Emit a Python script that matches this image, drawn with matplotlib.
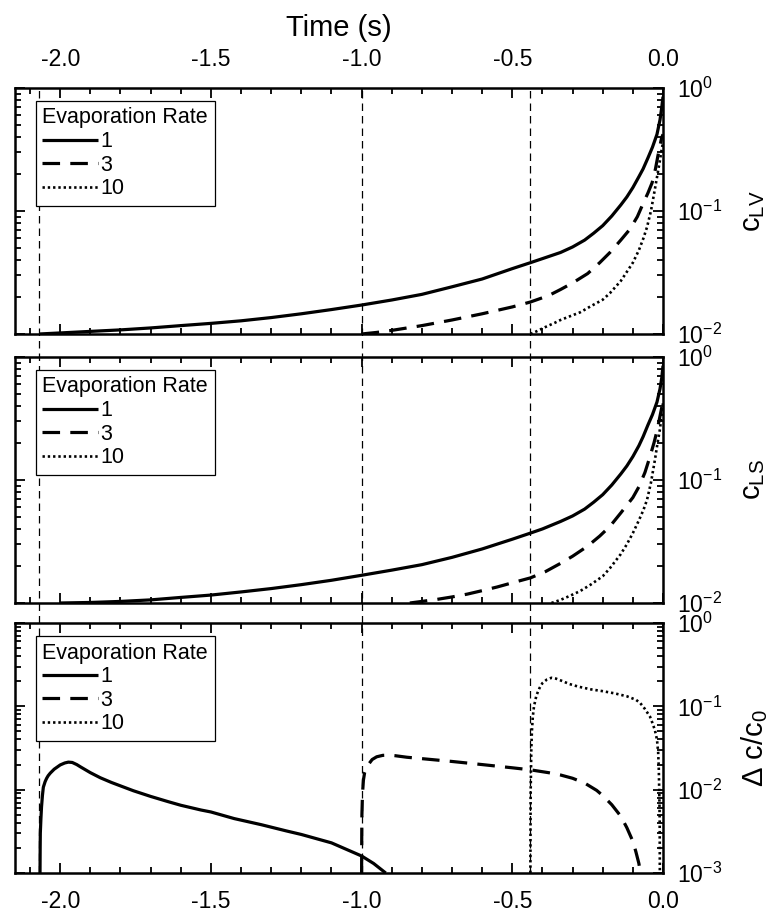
import numpy as np
import matplotlib
matplotlib.use("Agg")
import matplotlib.pyplot as plt
import matplotlib.transforms as mtransforms
from matplotlib.lines import Line2D
from matplotlib.ticker import MultipleLocator, LogLocator, LogFormatterMathtext, NullFormatter

plt.rcParams["font.family"] = ["Liberation Sans", "DejaVu Sans"]
plt.rcParams["mathtext.fontset"] = "custom"
plt.rcParams["mathtext.rm"] = "Liberation Sans"
plt.rcParams["mathtext.it"] = "Liberation Sans:italic"
plt.rcParams["mathtext.default"] = "regular"
plt.rcParams["axes.unicode_minus"] = False

# Evaporation rates shown in every panel
rates = ["1", "3", "10"]

# Times (s) where each rate starts (dashed guide lines)
guide_times = [-2.07, -1.0, -0.44]

# Panel 1: c_LV
t_lv_1 = [-2.07, -2.0, -1.9, -1.8, -1.7, -1.6, -1.5, -1.4, -1.3, -1.2, -1.1, -1.0, -0.9, -0.8,
          -0.7, -0.6, -0.5, -0.44, -0.4, -0.34, -0.3, -0.26, -0.23, -0.2, -0.17, -0.14, -0.12,
          -0.1, -0.08, -0.066, -0.05, -0.035, -0.02, -0.01, -0.004, 0.0]
c_lv_1 = [0.0100, 0.0102, 0.0105, 0.0108, 0.0112, 0.0117, 0.0122, 0.0128, 0.0136, 0.0146,
          0.0158, 0.0172, 0.0189, 0.021, 0.0242, 0.028, 0.034, 0.038, 0.041, 0.046, 0.051,
          0.058, 0.066, 0.076, 0.091, 0.112, 0.13, 0.155, 0.19, 0.22, 0.27, 0.33, 0.42, 0.55,
          0.70, 0.85]
t_lv_3 = [-1.0, -0.95, -0.9, -0.8, -0.7, -0.6, -0.5, -0.44, -0.38, -0.34, -0.3, -0.25, -0.21,
          -0.176, -0.14, -0.11, -0.085, -0.066, -0.05, -0.036, -0.025, -0.017, -0.01, -0.005, 0.0]
c_lv_3 = [0.0100, 0.0103, 0.0107, 0.0117, 0.0130, 0.0146, 0.0166, 0.0182, 0.0205, 0.023, 0.026,
          0.031, 0.038, 0.046, 0.058, 0.071, 0.09, 0.115, 0.14, 0.17, 0.22, 0.28, 0.34, 0.39, 0.42]
t_lv_10 = [-0.44, -0.42, -0.39, -0.36, -0.34, -0.31, -0.275, -0.24, -0.2, -0.176, -0.14, -0.12,
           -0.1, -0.08, -0.065, -0.053, -0.04, -0.027, -0.018, -0.01, -0.005, 0.0]
c_lv_10 = [0.0100, 0.0105, 0.0114, 0.0123, 0.0130, 0.0139, 0.0150, 0.0168, 0.019, 0.0215, 0.027,
           0.032, 0.038, 0.048, 0.060, 0.074, 0.10, 0.15, 0.20, 0.26, 0.31, 0.36]

# Panel 2: c_LS
t_ls_1 = [-2.0, -1.9, -1.8, -1.7, -1.6, -1.5, -1.4, -1.3, -1.2, -1.1, -1.0, -0.9, -0.8, -0.7,
          -0.6, -0.5, -0.44, -0.4, -0.34, -0.3, -0.26, -0.23, -0.2, -0.17, -0.14, -0.12, -0.1,
          -0.08, -0.066, -0.05, -0.035, -0.02, -0.01, -0.004, 0.0]
c_ls_1 = [0.0100, 0.0101, 0.0103, 0.0106, 0.0111, 0.0116, 0.0123, 0.0131, 0.0141, 0.0153,
          0.0168, 0.0185, 0.0205, 0.0235, 0.0275, 0.033, 0.037, 0.040, 0.046, 0.051, 0.058,
          0.066, 0.076, 0.091, 0.112, 0.13, 0.155, 0.19, 0.225, 0.28, 0.34, 0.43, 0.55, 0.68, 0.85]
t_ls_3 = [-0.84, -0.8, -0.75, -0.7, -0.65, -0.6, -0.55, -0.5, -0.44, -0.39, -0.34, -0.3, -0.25,
          -0.21, -0.176, -0.14, -0.1, -0.08, -0.06, -0.045, -0.03, -0.02, -0.01, -0.004, 0.0]
c_ls_3 = [0.0100, 0.0103, 0.0107, 0.0112, 0.0118, 0.0126, 0.0135, 0.0146, 0.0160, 0.0180, 0.021,
          0.024, 0.029, 0.035, 0.042, 0.054, 0.072, 0.088, 0.115, 0.15, 0.20, 0.25, 0.33, 0.39, 0.42]
t_ls_10 = [-0.37, -0.34, -0.31, -0.275, -0.24, -0.2, -0.176, -0.14, -0.12, -0.1, -0.08, -0.065,
           -0.053, -0.04, -0.027, -0.018, -0.01, -0.005, -0.002, 0.0]
c_ls_10 = [0.0100, 0.0106, 0.0114, 0.0125, 0.0141, 0.0165, 0.0192, 0.025, 0.030, 0.037, 0.047,
           0.057, 0.069, 0.095, 0.145, 0.20, 0.26, 0.33, 0.39, 0.42]

# Panel 3: delta c / c0
t_dc_1 = [-2.067, -2.0665, -2.066, -2.064, -2.062, -2.059, -2.056, -2.05, -2.045, -2.04, -2.033,
          -2.02, -2.0, -1.985, -1.973, -1.96, -1.945, -1.933, -1.9, -1.867, -1.83, -1.8, -1.757,
          -1.7, -1.643, -1.6, -1.533, -1.5, -1.423, -1.333, -1.25, -1.2, -1.1, -1.0, -0.96, -0.92]
c_dc_1 = [0.001, 0.002, 0.003, 0.0045, 0.0062, 0.0085, 0.0107, 0.0125, 0.0137, 0.0147, 0.0158,
          0.0176, 0.0198, 0.0209, 0.0214, 0.0212, 0.0200, 0.0188, 0.0160, 0.0139, 0.0122, 0.0111,
          0.0097, 0.0083, 0.0072, 0.0065, 0.0057, 0.0054, 0.0045, 0.0038, 0.0032, 0.0029,
          0.0023, 0.0016, 0.0013, 0.0010]
t_dc_3 = [-1.0, -0.9995, -0.999, -0.997, -0.994, -0.99, -0.98, -0.965, -0.95, -0.93, -0.91,
          -0.89, -0.85, -0.78, -0.7, -0.6, -0.5, -0.44, -0.38, -0.34, -0.3, -0.26, -0.22, -0.2,
          -0.17, -0.14, -0.12, -0.1, -0.09, -0.08, -0.075]
c_dc_3 = [0.001, 0.003, 0.005, 0.009, 0.013, 0.016, 0.0195, 0.023, 0.0248, 0.0258, 0.026, 0.0256,
          0.0245, 0.0232, 0.0218, 0.0200, 0.0183, 0.0173, 0.0160, 0.0150, 0.0137, 0.0120, 0.0098,
          0.0085, 0.0066, 0.0048, 0.0035, 0.0024, 0.0018, 0.0013, 0.001]
t_dc_10 = [-0.44, -0.4395, -0.439, -0.437, -0.435, -0.432, -0.428, -0.42, -0.41, -0.40, -0.385,
           -0.37, -0.355, -0.34, -0.31, -0.28, -0.24, -0.2, -0.16, -0.12, -0.09, -0.076, -0.06,
           -0.043, -0.035, -0.027, -0.02, -0.016, -0.014, -0.012, -0.011, -0.0105]
c_dc_10 = [0.001, 0.005, 0.01, 0.03, 0.05, 0.075, 0.10, 0.135, 0.165, 0.19, 0.21, 0.22, 0.215,
           0.205, 0.185, 0.172, 0.160, 0.152, 0.143, 0.132, 0.120, 0.110, 0.093, 0.075, 0.063,
           0.052, 0.040, 0.028, 0.018, 0.008, 0.004, 0.001]

panels = [
    {"t": [t_lv_1, t_lv_3, t_lv_10], "c": [c_lv_1, c_lv_3, c_lv_10],
     "ylim": (1e-2, 1e0), "ylabel": r"$c_{LV}$"},
    {"t": [t_ls_1, t_ls_3, t_ls_10], "c": [c_ls_1, c_ls_3, c_ls_10],
     "ylim": (1e-2, 1e0), "ylabel": r"$c_{LS}$"},
    {"t": [t_dc_1, t_dc_3, t_dc_10], "c": [c_dc_1, c_dc_3, c_dc_10],
     "ylim": (1e-3, 1e0), "ylabel": r"$\Delta\ c/c_0$"},
]

styles = [
    dict(linestyle="-", linewidth=2.3),
    dict(linestyle=(0, (5.5, 3.2)), linewidth=2.3),
    dict(linestyle=(0, (0.9, 1.1)), linewidth=1.9),
]

fig = plt.figure(figsize=(7.71, 9.11), dpi=100)
W, H = 771, 911
left, right = 15, 663
boxes = [(88, 334), (357, 603), (623, 873)]
axes = [fig.add_axes([left / W, 1 - b / H, (right - left) / W, (b - t) / H]) for t, b in boxes]

for i, (ax, p) in enumerate(zip(axes, panels)):
    ax.patch.set_visible(False)
    ax.set_yscale("log")
    ax.set_xlim(-2.15, 0.0)
    ax.set_ylim(*p["ylim"])

    for t, c, lab, st in zip(p["t"], p["c"], rates, styles):
        ax.plot(t, c, color="black", label=lab, solid_capstyle="butt",
                solid_joinstyle="round", **st)

    for s in ax.spines.values():
        s.set_linewidth(1.8)

    ax.xaxis.set_major_locator(MultipleLocator(0.5))
    ax.xaxis.set_minor_locator(MultipleLocator(0.1))
    ax.xaxis.set_major_formatter(plt.FuncFormatter(lambda v, pos: f"{v:.1f}"))
    ax.yaxis.set_major_locator(LogLocator(base=10, numticks=10))
    ax.yaxis.set_minor_locator(LogLocator(base=10, subs=np.arange(2, 10), numticks=10))
    ax.yaxis.set_major_formatter(LogFormatterMathtext())
    ax.yaxis.set_minor_formatter(NullFormatter())

    ax.tick_params(which="both", direction="in", top=True, bottom=True, left=True, right=True,
                   labelleft=False, labelright=True, labeltop=(i == 0),
                   labelbottom=(i == 2), labelsize=16.5, width=1.3)
    ax.tick_params(which="major", length=7.5)
    ax.tick_params(which="minor", length=4.5)
    ax.tick_params(axis="x", which="major", pad=12)
    ax.tick_params(axis="y", which="major", pad=10)

    ax.yaxis.set_label_position("right")
    ax.set_ylabel(p["ylabel"], fontsize=21, labelpad=12)

    leg = ax.legend(title="Evaporation Rate", loc="upper left",
                    bbox_to_anchor=(21 / (right - left), 1 - 13 / 246),
                    borderaxespad=0, fontsize=15.5, title_fontsize=15.5, frameon=True,
                    fancybox=False, edgecolor="black", framealpha=1,
                    handlelength=2.6, handletextpad=0.1, labelspacing=0.12,
                    borderpad=0.3, alignment="left")
    leg.get_frame().set_linewidth(0.9)

axes[0].xaxis.set_label_position("top")
axes[0].set_xlabel("Time (s)", fontsize=21, labelpad=9)

# dashed guide lines spanning all three panels
trans = mtransforms.blended_transform_factory(axes[2].transData, fig.transFigure)
for tg in guide_times:
    fig.add_artist(Line2D([tg, tg], [1 - boxes[2][1] / H, 1 - boxes[0][0] / H],
                          transform=trans, color="black", linewidth=0.9,
                          linestyle=(0, (6, 4)), zorder=-1))

fig.savefig("out.png", dpi=100, facecolor="white")
